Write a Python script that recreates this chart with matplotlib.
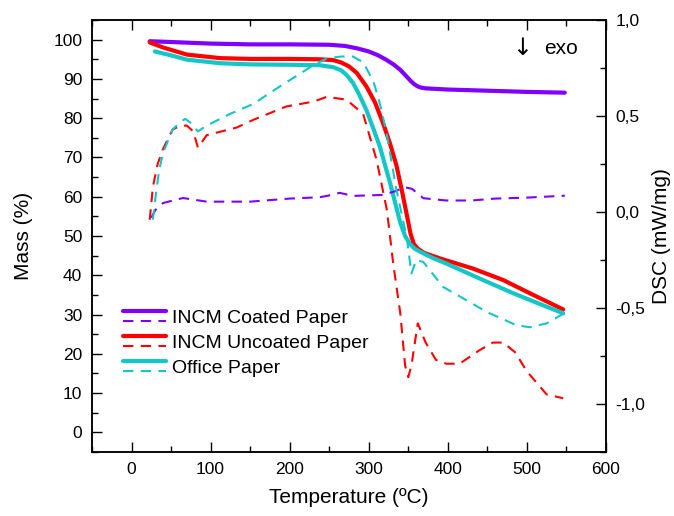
import matplotlib
matplotlib.use('Agg')
import matplotlib.pyplot as plt
import numpy as np
from matplotlib.lines import Line2D
from matplotlib.legend_handler import HandlerBase
from matplotlib.ticker import MultipleLocator, FuncFormatter

plt.rcParams['font.family'] = ['Liberation Sans', 'DejaVu Sans']

# TG curves (Mass %)
coated_T = [23, 50, 100, 150, 200, 250, 270, 285, 300, 312, 322, 332, 340, 347, 353, 358, 362, 366, 372, 400,
            450, 500, 548]
coated_M = [99.6, 99.4, 99.0, 98.8, 98.8, 98.7, 98.4, 97.8, 97.0, 96.0, 94.9, 93.6, 92.3, 90.8, 89.5, 88.6,
            88.1, 87.8, 87.6, 87.3, 87.0, 86.7, 86.5]

uncoated_T = [23, 40, 70, 112, 150, 200, 238, 255, 265, 275, 285, 297, 308, 318, 327, 335, 342, 348, 353, 357,
              362, 370, 390, 432, 470, 504, 546]
uncoated_M = [99.3, 98.0, 96.2, 95.3, 95.1, 95.1, 95.0, 94.8, 94.2, 93.2, 91.5, 88.1, 84.0, 78.8, 73.5, 68.0,
              61.5, 55.5, 50.5, 48.0, 46.8, 45.7, 44.3, 41.7, 38.8, 35.4, 31.3]

office_T = [29.5, 50, 70, 112, 150, 200, 238, 255, 265, 272, 280, 288, 297, 305, 314, 320, 327, 334, 340, 346,
            352, 358, 365, 380, 398, 440, 483, 546]
office_M = [97.0, 96.0, 94.9, 94.0, 93.7, 93.6, 93.5, 93.0, 92.2, 91.0, 89.0, 86.0, 82.1, 77.8, 72.8, 68.5,
            63.5, 58.0, 53.3, 50.0, 48.0, 46.8, 46.0, 44.5, 43.0, 39.2, 35.4, 30.3]

# DSC curves (mW/mg)
coated_dT = [25, 30, 40, 65, 95, 150, 200, 238, 255, 263, 280, 318, 335, 345, 355, 369, 398, 430, 460, 500, 548]
coated_D = [-0.03, 0.01, 0.047, 0.073, 0.054, 0.054, 0.07, 0.077, 0.09, 0.10, 0.084, 0.089, 0.11, 0.13, 0.12,
            0.072, 0.06, 0.06, 0.07, 0.075, 0.085]

uncoated_dT = [23, 27, 33, 40, 52, 62, 70, 78, 84, 95, 133, 154, 196, 230, 247, 272, 293, 310, 323, 331, 340,
               346, 350, 354, 362, 372, 385, 398, 415, 440, 457, 470, 485, 500, 525, 546]
uncoated_D = [-0.04, 0.13, 0.25, 0.33, 0.43, 0.45, 0.45, 0.42, 0.335, 0.40, 0.44, 0.48, 0.55, 0.575, 0.60, 0.585,
              0.51, 0.27, 0.01, -0.27, -0.53, -0.80, -0.86, -0.80, -0.58, -0.68, -0.77, -0.79, -0.79, -0.72,
              -0.68, -0.68, -0.73, -0.83, -0.95, -0.97]

office_dT = [27, 31, 35, 40, 52, 62, 68, 74, 84, 95, 124, 154, 183, 209, 230, 247, 265, 280, 293, 306, 315, 323,
             335, 348, 354, 360, 369, 394, 428, 449, 487, 504, 525, 546]
office_D = [-0.04, 0.10, 0.22, 0.31, 0.43, 0.47, 0.485, 0.467, 0.42, 0.45, 0.51, 0.563, 0.642, 0.71, 0.765, 0.80,
            0.81, 0.81, 0.78, 0.68, 0.55, 0.40, 0.116, -0.13, -0.32, -0.25, -0.26, -0.39, -0.47, -0.52, -0.59,
            -0.60, -0.58, -0.53]

labels = ['INCM Coated Paper', 'INCM Uncoated Paper', 'Office Paper']
colors = ['#8000ff', '#ff0000', '#14c6c6']


class StackHandler(HandlerBase):
    # solid line on top, dashed line below it
    def create_artists(self, legend, orig_handle, xdescent, ydescent, width, height, fontsize, trans):
        arts = []
        for line, dy in zip(orig_handle, (0.35, -0.35)):
            y = height / 2 - ydescent + dy * height
            l = Line2D([-xdescent, width - xdescent], [y, y])
            l.update_from(line)
            l.set_transform(trans)
            arts.append(l)
        return arts


fig = plt.figure(figsize=(6.74, 5.16), dpi=100)
ax = fig.add_axes([0.1365, 0.124, 0.7625, 0.8372])
ax2 = ax.twinx()

solids, dashes = [], []
for T, M, c in zip([coated_T, uncoated_T, office_T], [coated_M, uncoated_M, office_M], colors):
    s, = ax.plot(T, M, color=c, lw=3.0, solid_capstyle='round', solid_joinstyle='round')
    solids.append(s)
for T, D, c in zip([coated_dT, uncoated_dT, office_dT], [coated_D, uncoated_D, office_D], colors):
    d, = ax2.plot(T, D, color=c, lw=1.5, dashes=(5, 3.5))
    dashes.append(d)

ax.set_xlim(-50, 600)
ax.set_ylim(-5, 105)
ax2.set_ylim(-1.25, 1.0)

ax.xaxis.set_major_locator(MultipleLocator(100))
ax.xaxis.set_minor_locator(MultipleLocator(50))
ax.yaxis.set_major_locator(MultipleLocator(10))
ax.yaxis.set_minor_locator(MultipleLocator(5))
ax2.yaxis.set_major_locator(MultipleLocator(0.5))
ax2.yaxis.set_minor_locator(MultipleLocator(0.25))
ax2.yaxis.set_major_formatter(FuncFormatter(lambda v, p: ('%.1f' % v).replace('.', ',')))

ax.tick_params(which='both', direction='in', top=True, right=False, labelsize=12.5, pad=7, width=1)
ax.tick_params(which='major', length=7)
ax.tick_params(which='minor', length=4)
ax2.tick_params(which='both', direction='in', labelsize=12.5, pad=7, width=1)
ax2.tick_params(which='major', length=7)
ax2.tick_params(which='minor', length=4)
for a in (ax, ax2):
    for sp in a.spines.values():
        sp.set_linewidth(1.1)

ax.set_xlabel('Temperature (ºC)', fontsize=15, labelpad=8)
ax.set_ylabel('Mass (%)', fontsize=15)
ax2.set_ylabel('DSC (mW/mg)', fontsize=15)
ax.yaxis.set_label_coords(-0.115, 0.5)
ax2.yaxis.set_label_coords(1.089, 0.5)

ax.text(0.837, 0.935, '↓', transform=ax.transAxes, fontsize=17, ha='center', va='center',
        family=['DejaVu Sans'])
ax.text(0.913, 0.935, 'exo', transform=ax.transAxes, fontsize=15, ha='center', va='center')

ax2.legend(handles=list(zip(solids, dashes)), labels=labels, handler_map={tuple: StackHandler()},
           loc='upper left', bbox_to_anchor=(0.06, 0.331), frameon=False, fontsize=14,
           handlelength=2.2, handletextpad=0.35, labelspacing=0.38, borderpad=0, borderaxespad=0)

fig.savefig('out.png', dpi=100)
